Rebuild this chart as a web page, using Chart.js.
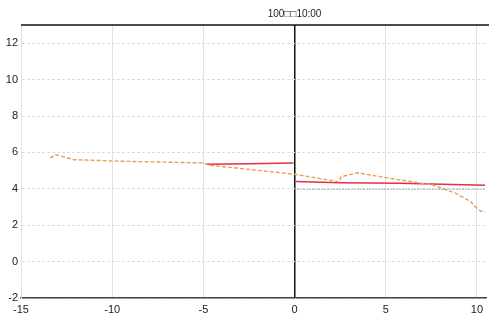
<!DOCTYPE html>
<html>
<head>
    <title>Chart</title>
    <script src="https://cdn.jsdelivr.net/npm/chart.js"></script>
    <style>
        body { margin: 0; background: #fff; }
        #wrap { width: 500px; height: 326px; }
    </style>
</head>
<body>
    <div id="wrap"><canvas id="chart"></canvas></div>

    <script>
        // title as shown in the picture (characters lost in the original)
        var titleText = '100\u25A1\u25A110:00';

        // orange dashed series
        var orangeX = [-13.4, -13.1, -12.1, -9.7, -5.0, -4.7, 0, 2.45, 2.55, 3.45, 5.2, 5.75, 7.55, 8.85, 9.65, 9.95, 10.2, 10.45];
        var orangeY = [5.7, 5.88, 5.6, 5.52, 5.42, 5.3, 4.8, 4.38, 4.66, 4.88, 4.58, 4.49, 4.22, 3.75, 3.3, 2.97, 2.78, 2.74];

        // red solid series (break at 0)
        var redX = [-4.85, -2.5, -0.05, 0, 0.05, 2.5, 5.75, 10.45];
        var redY = [5.35, 5.38, 5.42, null, 4.4, 4.33, 4.3, 4.19];

        // dotted level line on the right half
        var levelX = [0, 10.45];
        var levelY = [3.97, 3.97];

        var xTicks = [-15, -10, -5, 0, 5, 10];
        var yTicks = [-2, 0, 2, 4, 6, 8, 10, 12];

        function pts(xs, ys) {
            return xs.map(function (x, i) { return { x: x, y: ys[i] }; });
        }

        // draws the black top border and the title over x = 0
        var frame = {
            id: 'frame',
            afterDraw: function (chart) {
                var c = chart.ctx, a = chart.chartArea;
                c.save();
                c.strokeStyle = '#111';
                c.lineWidth = 1.5;
                c.beginPath();
                c.moveTo(a.left, a.top);
                c.lineTo(a.right + 3, a.top);
                c.stroke();
                c.fillStyle = '#222';
                c.font = '10px "Liberation Sans", Arial, sans-serif';
                c.textAlign = 'center';
                c.textBaseline = 'middle';
                c.fillText(titleText, chart.scales.x.getPixelForValue(0), 14);
                c.restore();
            }
        };

        var font = { family: '"Liberation Sans", Arial, sans-serif', size: 11 };

        new Chart(document.getElementById('chart'), {
            type: 'line',
            data: {
                datasets: [{
                    data: pts(levelX, levelY),
                    borderColor: '#7686a0',
                    borderWidth: 1.2,
                    borderDash: [1, 2],
                    pointRadius: 0
                }, {
                    data: pts(orangeX, orangeY),
                    borderColor: '#ec9d5a',
                    borderWidth: 1.4,
                    borderDash: [4, 2],
                    pointRadius: 0
                }, {
                    data: pts(redX, redY),
                    borderColor: '#e62e48',
                    borderWidth: 1.5,
                    pointRadius: 0,
                    spanGaps: false
                }]
            },
            plugins: [frame],
            options: {
                responsive: true,
                maintainAspectRatio: false,
                animation: false,
                layout: { padding: { top: 25, right: 14, left: 0, bottom: 0 } },
                plugins: {
                    legend: { display: false },
                    tooltip: { enabled: false }
                },
                scales: {
                    x: {
                        type: 'linear',
                        min: -15,
                        max: 10.5,
                        afterBuildTicks: function (s) {
                            s.ticks = xTicks.map(function (v) { return { value: v }; });
                        },
                        afterFit: function (s) { s.height = 28; },
                        ticks: { color: '#222', font: font, padding: 5 },
                        grid: {
                            drawTicks: false,
                            color: function (c) { return c.tick && c.tick.value === 0 ? '#111' : '#e2e2e2'; },
                            lineWidth: function (c) { return c.tick && c.tick.value === 0 ? 1.5 : 1; }
                        },
                        border: { color: '#444', width: 1.5 }
                    },
                    y: {
                        min: -2,
                        max: 13,
                        afterBuildTicks: function (s) {
                            s.ticks = yTicks.map(function (v) { return { value: v }; });
                        },
                        afterFit: function (s) { s.width = 21; },
                        ticks: { color: '#222', font: font, padding: 3 },
                        grid: { drawTicks: false, color: '#dedede' },
                        border: { color: '#e2e2e2', width: 1, dash: [3, 2] }
                    }
                }
            }
        });
    </script>
</body>
</html>
